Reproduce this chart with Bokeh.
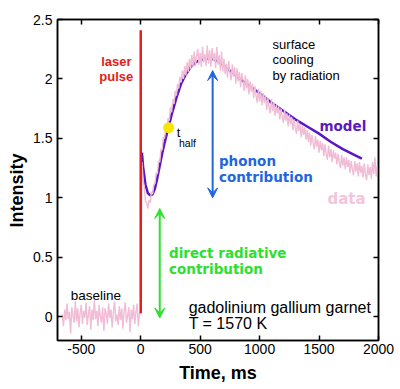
from bokeh.plotting import figure
from bokeh.models import (Range1d, FixedTicker, LinearAxis, Label, Arrow, VeeHead,
                          CustomJSTickFormatter, Title)
from bokeh.embed import file_html
from bokeh.resources import INLINE

# ---------------- data ----------------
data_intensity = [
    # baseline, -660 .. -10
    0.02, -0.08, 0.06, -0.03, 0.11, -0.02, 0.04, -0.14, 0.08, 0.01,
    -0.05, 0.13, -0.04, 0.07, -0.09, 0.03, 0.10, -0.06, 0.05, -0.01,
    0.12, -0.07, 0.02, 0.09, -0.11, 0.06, -0.03, 0.14, -0.02, 0.05,
    -0.08, 0.10, 0.00, -0.05, 0.08, -0.12, 0.07, 0.03, -0.06, 0.11,
    -0.01, 0.06, -0.09, 0.04, 0.13, -0.04, 0.02, -0.07, 0.09, -0.03,
    0.07, -0.10, 0.05, 0.12, -0.05, 0.01, 0.08, -0.13, 0.06, -0.02,
    0.10, -0.06, 0.04, 0.11, -0.08, 0.03,
    # 0
    0.03,
    # 10 .. 690
    1.30, 1.15, 1.09, 0.97, 0.96, 0.91, 0.98, 0.96, 1.05, 1.03,
    1.11, 1.12, 1.21, 1.20, 1.31, 1.30, 1.41, 1.40, 1.51, 1.50,
    1.59, 1.57, 1.67, 1.65, 1.76, 1.72, 1.83, 1.79, 1.90, 1.86,
    1.96, 1.92, 2.02, 1.97, 2.07, 2.00, 2.11, 2.03, 2.14, 2.06,
    2.17, 2.08, 2.20, 2.10, 2.23, 2.11, 2.19, 2.25, 2.12, 2.22,
    2.10, 2.27, 2.14, 2.21, 2.11, 2.28, 2.13, 2.24, 2.10, 2.26,
    2.15, 2.22, 2.09, 2.27, 2.12, 2.20, 2.07, 2.23, 2.06,
    # 700 .. 1390
    2.17, 2.04, 2.13, 2.01, 2.15, 2.06, 1.99, 2.12, 2.02, 2.10,
    1.96, 2.09, 1.98, 2.06, 1.93, 2.05, 1.99, 1.90, 2.03, 1.92,
    2.00, 1.87, 1.98, 1.89, 1.96, 1.84, 1.94, 1.86, 1.80, 1.92,
    1.81, 1.90, 1.78, 1.88, 1.80, 1.86, 1.74, 1.84, 1.76, 1.71,
    1.83, 1.73, 1.80, 1.69, 1.78, 1.71, 1.77, 1.66, 1.75, 1.68,
    1.63, 1.74, 1.65, 1.71, 1.60, 1.70, 1.62, 1.68, 1.57, 1.66,
    1.59, 1.54, 1.65, 1.56, 1.62, 1.51, 1.61, 1.53, 1.59, 1.49,
    # 1400 .. 2000
    1.57, 1.47, 1.55, 1.44, 1.53, 1.46, 1.41, 1.52, 1.43, 1.49,
    1.38, 1.48, 1.40, 1.46, 1.35, 1.45, 1.37, 1.32, 1.44, 1.34,
    1.41, 1.30, 1.40, 1.33, 1.38, 1.28, 1.37, 1.30, 1.25, 1.36,
    1.27, 1.34, 1.24, 1.34, 1.26, 1.32, 1.21, 1.31, 1.24, 1.19,
    1.31, 1.22, 1.29, 1.18, 1.30, 1.21, 1.27, 1.17, 1.29, 1.20,
    1.15, 1.28, 1.19, 1.26, 1.16, 1.30, 1.20, 1.34, 1.18, 1.27,
    1.22,
]
data_time = [-660 + 10 * i for i in range(len(data_intensity))]

model_time = [10, 20, 40, 60, 80, 100, 120, 140, 160, 180, 200, 220, 240, 260,
              280, 300, 340, 380, 420, 460, 500, 550, 600, 650, 700, 750, 800,
              900, 1000, 1100, 1200, 1300, 1400, 1500, 1600, 1700, 1800, 1860]
model_intensity = [1.38, 1.26, 1.11, 1.04, 1.02, 1.03, 1.08, 1.17, 1.27, 1.37,
                   1.46, 1.54, 1.62, 1.70, 1.77, 1.84, 1.96, 2.04, 2.10, 2.14,
                   2.16, 2.17, 2.17, 2.15, 2.11, 2.07, 2.03, 1.95, 1.88, 1.80,
                   1.73, 1.66, 1.60, 1.54, 1.47, 1.41, 1.36, 1.33]

pulse_time = [0, 0]
pulse_intensity = [0.03, 2.41]

t_half_time = [235]
t_half_intensity = [1.59]

x_ticks = [-500, 0, 500, 1000, 1500, 2000]
x_tick_labels = ["-500", "0", "500", "1000", "1500", "2000"]
y_ticks = [0, 0.5, 1, 1.5, 2, 2.5]
y_tick_labels = ["0", "0.5", "1", "1.5", "2", "2.5"]

# ---------------- figure ----------------
FONT = "Liberation Sans"
BOLD2 = "DejaVu Sans"

p = figure(width=396, height=388,
           x_range=Range1d(-700, 2000), y_range=Range1d(-0.2, 2.5),
           output_backend="svg", toolbar_location=None,
           min_border_left=57, min_border_top=19,
           min_border_right=18, min_border_bottom=48)
p.background_fill_color = "white"
p.border_fill_color = "white"
p.grid.visible = False
p.outline_line_color = "black"
p.outline_line_width = 1.5

def style_axis(ax, ticks, labels=None):
    ax.ticker = FixedTicker(ticks=ticks)
    ax.major_tick_in = 5
    ax.major_tick_out = 0
    ax.minor_tick_line_color = None
    ax.axis_line_color = "black"
    ax.axis_line_width = 1.5
    ax.major_tick_line_color = "black"
    ax.major_tick_line_width = 1.5
    if labels is not None:
        ax.major_label_overrides = {t: l for t, l in zip(ticks, labels)}
        ax.major_label_text_font = FONT
        ax.major_label_text_font_size = "14px"
        ax.major_label_text_color = "black"

xa = p.xaxis[0]
ya = p.yaxis[0]
style_axis(xa, x_ticks, x_tick_labels)
style_axis(ya, y_ticks, y_tick_labels)
xa.major_label_standoff = 3
ya.major_label_standoff = 5
xa.axis_label = "Time, ms"
xa.axis_label_text_font = FONT
xa.axis_label_text_font_size = "18px"
xa.axis_label_text_font_style = "bold"
xa.axis_label_text_color = "black"
xa.axis_label_standoff = 6

top = LinearAxis(formatter=CustomJSTickFormatter(code="return ''"))
right = LinearAxis(formatter=CustomJSTickFormatter(code="return ''"))
for ax, t in ((top, x_ticks), (right, y_ticks)):
    style_axis(ax, t)
    ax.major_label_text_font_size = "0px"
    ax.major_label_standoff = 0
p.add_layout(top, "above")
p.add_layout(right, "right")

# y-axis title as a left-side Title (lets it sit a little below centre)
p.add_layout(Title(text="Intensity", align="left", offset=113,
                   vertical_align="bottom", standoff=7,
                   text_font=FONT, text_font_size="18px",
                   text_font_style="bold", text_color="black"), "left")

# ---------------- marks ----------------
p.line(model_time, model_intensity, line_color="#5a18c0", line_width=2.5)
p.line(data_time, data_intensity, line_color="#f0bcd6", line_width=1.4)
p.line(pulse_time, pulse_intensity, line_color="#e41c1c", line_width=2.5)
p.scatter(t_half_time, t_half_intensity, size=11, fill_color="#f7e600",
          line_color=None)

BLUE = "#2266dd"
GREEN = "#2de02d"
p.add_layout(Arrow(x_start=605, y_start=1.0, x_end=605, y_end=2.07,
                   line_color=BLUE, line_width=2,
                   start=VeeHead(size=10, fill_color=BLUE, line_color=BLUE),
                   end=VeeHead(size=10, fill_color=BLUE, line_color=BLUE)))
p.add_layout(Arrow(x_start=160, y_start=-0.01, x_end=160, y_end=0.91,
                   line_color=GREEN, line_width=2,
                   start=VeeHead(size=10, fill_color=GREEN, line_color=GREEN),
                   end=VeeHead(size=10, fill_color=GREEN, line_color=GREEN)))

def label(x, y, text, color="black", font=FONT, size="13px", bold=False,
          align="left"):
    p.add_layout(Label(x=x, y=y, text=text, text_color=color, text_font=font,
                       text_font_size=size,
                       text_font_style="bold" if bold else "normal",
                       text_align=align, text_baseline="alphabetic"))

label(-205, 2.143, "laser", "#e41c1c", FONT, "13px", True, "center")
label(-205, 2.02, "pulse", "#e41c1c", FONT, "13px", True, "center")
label(1109, 2.286, "surface")
label(1109, 2.16, "cooling")
label(1109, 2.025, "by radiation")
label(1504, 1.605, "model", "#5a18c0", BOLD2, "13.5px", True)
label(658, 1.31, "phonon", BLUE, BOLD2, "13.5px", True)
label(658, 1.176, "contribution", BLUE, BOLD2, "13.5px", True)
label(1571, 0.99, "data", "#f4c4dc", BOLD2, "15px", True)
label(238, 0.54, "direct radiative", GREEN, BOLD2, "13.5px", True)
label(238, 0.40, "contribution", GREEN, BOLD2, "13.5px", True)
label(-588, 0.176, "baseline", size="13.5px")
label(403, 0.078, "gadolinium gallium garnet", size="16px")
label(403, -0.061, "T = 1570 K", size="16px")
label(302, 1.55, "t", size="13px")
label(322, 1.465, "half", size="10.5px")

open("out.html", "w").write(file_html(p, INLINE))
